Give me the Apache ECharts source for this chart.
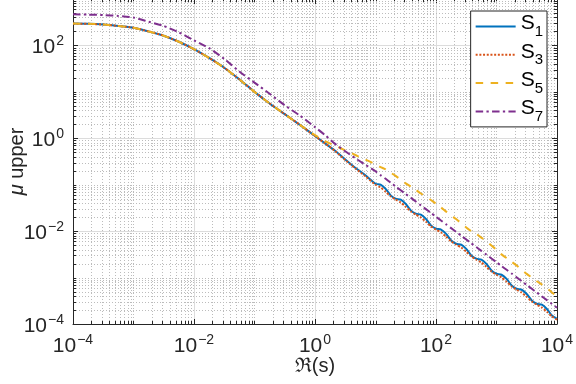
<!DOCTYPE html>
<html>
<head>
<meta charset="utf-8">
<script src="https://cdn.jsdelivr.net/npm/echarts@6/dist/echarts.min.js"></script>
<style>
  html, body { margin: 0; padding: 0; background: #fff; }
  #chart { width: 576px; height: 384px; }
</style>
</head>
<body>
<div id="chart"></div>
<script>
// Re(s) sample points (x)
const sValues = [
  1e-4, 1.78e-4, 3.16e-4, 5.62e-4, 1e-3, 1.78e-3, 3.16e-3, 5.62e-3,
  1e-2, 1.78e-2, 3.16e-2, 5.62e-2, 0.1, 0.178, 0.316, 0.562,
  1, 1.47, 2.15, 3.16, 4.64, 6.81,
  10, 12.1, 14.7, 17.8, 21.5, 26.1, 31.6, 38.3, 46.4, 56.2, 68.1, 82.5,
  100, 121, 147, 178, 215, 261, 316, 383, 464, 562, 681, 825,
  1000, 1210, 1470, 1780, 2150, 2610, 3160, 3830, 4640, 5620, 6810, 8250, 10000
];

// mu upper, one list per curve
const s1Values = [
  295, 292, 282, 263, 240, 200, 162, 120, 83, 53.7, 33.1, 18.6, 10.0, 5.62, 3.31, 1.95,
  1.12, 0.776, 0.537, 0.350, 0.232, 0.160,
  0.105, 0.100, 0.0815, 0.0589, 0.0500, 0.0476, 0.0386, 0.0280, 0.0238, 0.0226, 0.0184, 0.0133,
  0.0113, 0.0108, 0.00873, 0.00631, 0.00536, 0.00511, 0.00414, 0.00300, 0.00255, 0.00243, 0.00197, 0.00142,
  0.00121, 0.00115, 0.000935, 0.000676, 0.000574, 0.000547, 0.000444, 0.000321, 0.000273, 0.000260, 0.000211, 0.000152, 0.000129
];
const s3Values = [
  295, 292, 282, 263, 240, 200, 162, 120, 83, 53.7, 33.1, 18.6, 10.0, 5.62, 3.31, 1.95,
  1.12, 0.776, 0.530, 0.340, 0.225, 0.152,
  0.100, 0.0875, 0.0710, 0.0562, 0.0478, 0.0415, 0.0337, 0.0267, 0.0227, 0.0197, 0.0160, 0.0127,
  0.0108, 0.00938, 0.00760, 0.00603, 0.00512, 0.00445, 0.00361, 0.00286, 0.00243, 0.00211, 0.00171, 0.00136,
  0.00115, 0.00101, 0.000815, 0.000646, 0.000548, 0.000476, 0.000386, 0.000307, 0.000261, 0.000226, 0.000184, 0.000146, 0.000124
];
const s5Values = [
  295, 292, 282, 263, 240, 200, 162, 120, 83, 53.7, 33.1, 18.6, 10.0, 5.62, 3.31, 1.95,
  1.17, 0.871, 0.692, 0.550, 0.437, 0.347,
  0.275, 0.240, 0.214, 0.182, 0.155, 0.129, 0.107, 0.0912, 0.0776, 0.0646, 0.0562, 0.0468,
  0.0389, 0.0324, 0.0263, 0.0219, 0.0182, 0.0148, 0.0120, 0.0100, 0.00871, 0.00724, 0.00603, 0.00490,
  0.00398, 0.00316, 0.00263, 0.00219, 0.00182, 0.00148, 0.00120, 0.00100, 0.000832, 0.000708, 0.000589, 0.000479, 0.000398
];
const s7Values = [
  468, 460, 452, 431, 398, 324, 263, 191, 129, 87.1, 51.3, 27.5, 15.8, 9.12, 5.13, 3.09,
  1.74, 1.17, 0.759, 0.525, 0.372, 0.269,
  0.195, 0.161, 0.134, 0.111, 0.0918, 0.0760, 0.0631, 0.0524, 0.0434, 0.0359, 0.0298, 0.0247,
  0.0204, 0.0169, 0.0140, 0.0116, 0.00964, 0.00798, 0.00661, 0.00548, 0.00454, 0.00376, 0.00312, 0.00258,
  0.00214, 0.00177, 0.00147, 0.00122, 0.00101, 0.000836, 0.000692, 0.000574, 0.000475, 0.000394, 0.000327, 0.000270, 0.000224
];

const seriesNames = ['S1', 'S3', 'S5', 'S7'];
const xRange = [1e-4, 1e4];
const yRange = [1e-4, 1e3];

const FONT = 'Liberation Sans';
const INK = '#262626';
const MINOR = '#bcbcbc';

// minor grid positions: 2..9 x 10^d plus the unlabeled decades
function minorPositions(range) {
  const out = [];
  const d0 = Math.round(Math.log10(range[0]));
  const d1 = Math.round(Math.log10(range[1]));
  for (let d = d0; d < d1; d++) {
    for (let k = 1; k <= 9; k++) {
      if (k === 1 && d % 2 === 0) continue;
      out.push(k * Math.pow(10, d));
    }
  }
  return out;
}
const minorX = minorPositions(xRange);
const minorY = minorPositions(yRange);

function powLabel(v) {
  const lg = Math.log10(v);
  const e = Math.round(lg);
  if (Math.abs(lg - e) > 1e-6 || e % 2 !== 0) return '';
  return '{b|10}{s|' + String(e).replace('-', '\u2212') + '}';
}

const tickRich = {
  b: { fontSize: 21, fontFamily: FONT, color: INK, lineHeight: 22, padding: [4, 0, 0, 0] },
  s: { fontSize: 14, fontFamily: FONT, color: INK, lineHeight: 14, padding: [2, 0, 10, 1] }
};

function logAxis(range, pos, main) {
  return {
    type: 'log',
    logBase: 100,
    min: range[0],
    max: range[1],
    position: pos,
    axisLine: { show: true, lineStyle: { color: INK, width: 1 } },
    axisTick: { show: true, inside: true, length: 5, lineStyle: { color: INK } },
    axisLabel: main ? { margin: 9, formatter: powLabel, rich: tickRich } : { show: false },
    splitLine: { show: main, lineStyle: { color: '#dcdcdc', width: 1 } }
  };
}

const xMain = logAxis(xRange, 'bottom', true);
xMain.name = '\u211C(s)';
xMain.nameLocation = 'middle';
xMain.nameGap = 32;
xMain.nameMoveOverlap = false;
xMain.nameTextStyle = { fontSize: 20, fontFamily: FONT, color: INK };

const yMain = logAxis(yRange, 'left', true);
yMain.name = '{i|\u03BC} upper';
yMain.nameLocation = 'middle';
yMain.nameGap = 46;
yMain.nameMoveOverlap = false;
yMain.nameTextStyle = {
  fontSize: 20, fontFamily: FONT, color: INK,
  rich: { i: { fontSize: 20, fontFamily: FONT, fontStyle: 'italic', color: INK } }
};

function snap(v) { return Math.round(v) + 0.5; }

function minorXItem(params, api) {
  const v = api.value(0);
  const b = api.coord([v, yRange[0]]);
  const t = api.coord([v, yRange[1]]);
  const x = snap(b[0]);
  return {
    type: 'group',
    children: [
      { type: 'line', shape: { x1: x, y1: b[1], x2: x, y2: t[1] }, style: { stroke: MINOR, lineWidth: 1, lineDash: [1, 2] } },
      { type: 'line', shape: { x1: x, y1: b[1], x2: x, y2: b[1] - 3 }, style: { stroke: INK, lineWidth: 1 } },
      { type: 'line', shape: { x1: x, y1: t[1], x2: x, y2: t[1] + 3 }, style: { stroke: INK, lineWidth: 1 } }
    ]
  };
}

function minorYItem(params, api) {
  const v = api.value(1);
  const l = api.coord([xRange[0], v]);
  const r = api.coord([xRange[1], v]);
  const y = snap(l[1]);
  return {
    type: 'group',
    children: [
      { type: 'line', shape: { x1: l[0], y1: y, x2: r[0], y2: y }, style: { stroke: MINOR, lineWidth: 1, lineDash: [1, 2] } },
      { type: 'line', shape: { x1: l[0], y1: y, x2: l[0] + 3, y2: y }, style: { stroke: INK, lineWidth: 1 } },
      { type: 'line', shape: { x1: r[0], y1: y, x2: r[0] - 3, y2: y }, style: { stroke: INK, lineWidth: 1 } }
    ]
  };
}

function pairs(ys) {
  return sValues.map((s, i) => [s, ys[i]]);
}

function curve(name, ys, color, dash) {
  return {
    name: name,
    type: 'line',
    data: pairs(ys),
    symbol: 'none',
    smooth: 0.2,
    z: 3,
    lineStyle: { color: color, width: 2, type: dash },
    itemStyle: { color: color }
  };
}

const chart = echarts.init(document.getElementById('chart'));
chart.setOption({
  animation: false,
  backgroundColor: '#fff',
  grid: { left: 73, right: 19, top: -1, bottom: 60, containLabel: false, outerBoundsMode: 'none' },
  xAxis: [xMain, logAxis(xRange, 'top', false)],
  yAxis: [yMain, logAxis(yRange, 'right', false)],
  legend: {
    data: seriesNames,
    orient: 'vertical',
    right: 29,
    top: 11,
    itemWidth: 40,
    itemHeight: 14,
    itemGap: 1.3,
    padding: [2, 4, 2, 4],
    backgroundColor: '#fff',
    borderColor: INK,
    borderWidth: 1,
    borderRadius: 0,
    itemStyle: { opacity: 0 },
    formatter: n => '{s|S}{sub|' + n.slice(1) + '}',
    textStyle: {
      rich: {
        s: { fontSize: 21, fontFamily: FONT, color: '#000', lineHeight: 24, padding: [0, 0, 6, 0] },
        sub: { fontSize: 15, fontFamily: FONT, color: '#000', lineHeight: 19, padding: [11, 0, 0, 0] }
      }
    }
  },
  series: [
    { type: 'custom', silent: true, z: 1, data: minorX.map(v => [v, 1]), renderItem: minorXItem },
    { type: 'custom', silent: true, z: 1, data: minorY.map(v => [1, v]), renderItem: minorYItem },
    curve('S1', s1Values, '#0072BD', 'solid'),
    curve('S3', s3Values, '#D95319', [2, 1.7]),
    curve('S5', s5Values, '#EDB120', [7.5, 7.5]),
    curve('S7', s7Values, '#7E2F8E', [7.5, 3.3, 2.3, 3.3])
  ]
});
</script>
</body>
</html>
